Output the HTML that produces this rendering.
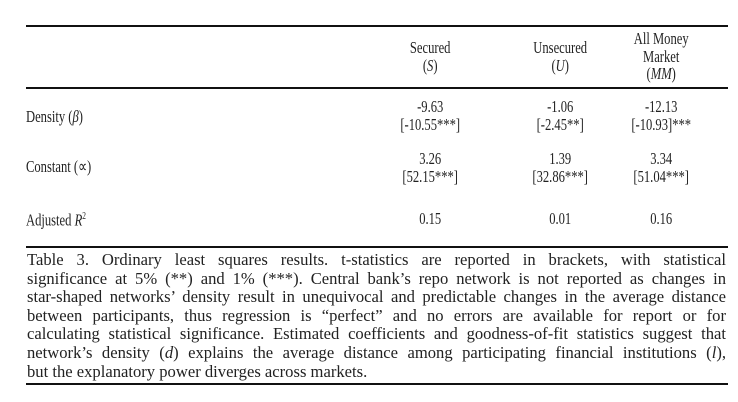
<!DOCTYPE html>
<html><head><meta charset="utf-8"><style>
body{margin:0;width:738px;height:402px;background:#fff;position:relative;overflow:hidden;font-family:"Liberation Serif",serif;color:#222;font-size:17px}
.r{position:absolute;background:#111}
.t{position:absolute;white-space:nowrap;line-height:18px;transform:scaleX(0.74);transform-origin:left top}
.c{text-align:center;width:160px;margin-left:-59px}
.cap{position:absolute;left:27px;width:699px;top:251px;font-size:16.6px}
.cap div{line-height:18.6px;height:18.6px;text-align:justify;text-align-last:justify;white-space:nowrap}
.cap div.last{text-align-last:left}
</style></head><body>
<div class="r" style="left:26px;top:25px;width:702px;height:2px"></div>
<div class="r" style="left:26px;top:87px;width:702px;height:2px"></div>
<div class="r" style="left:26px;top:246px;width:702px;height:2px"></div>
<div class="r" style="left:26px;top:383px;width:702px;height:2px"></div>

<div class="t c" style="left:430px;top:39px">Secured<br>(<i>S</i>)</div>
<div class="t c" style="left:560px;top:39px">Unsecured<br>(<i>U</i>)</div>
<div class="t c" style="left:661px;top:30px;line-height:17.5px">All Money<br>Market<br>(<i>MM</i>)</div>

<div class="t" style="left:26px;top:108px">Density (<i>β</i>)</div>
<div class="t c" style="left:430px;top:98px">-9.63<br>[-10.55***]</div>
<div class="t c" style="left:560px;top:98px">-1.06<br>[-2.45**]</div>
<div class="t c" style="left:661px;top:98px">-12.13<br>[-10.93]***</div>

<div class="t" style="left:26px;top:158px">Constant (∝)</div>
<div class="t c" style="left:430px;top:150px">3.26<br>[52.15***]</div>
<div class="t c" style="left:560px;top:150px">1.39<br>[32.86***]</div>
<div class="t c" style="left:661px;top:150px">3.34<br>[51.04***]</div>

<div class="t" style="left:26px;top:208px">Adjusted <i>R</i><sup style="font-size:10px">2</sup></div>
<div class="t c" style="left:430px;top:210px">0.15</div>
<div class="t c" style="left:560px;top:210px">0.01</div>
<div class="t c" style="left:661px;top:210px">0.16</div>

<div class="cap">
<div>Table 3. Ordinary least squares results. t-statistics are reported in brackets, with statistical</div>
<div>significance at 5% (**) and 1% (***). Central bank’s repo network is not reported as changes in</div>
<div>star-shaped networks’ density result in unequivocal and predictable changes in the average distance</div>
<div>between participants, thus regression is “perfect” and no errors are available for report or for</div>
<div>calculating statistical significance. Estimated coefficients and goodness-of-fit statistics suggest that</div>
<div>network’s density (<i>d</i>) explains the average distance among participating financial institutions (<i>l</i>),</div>
<div class="last">but the explanatory power diverges across markets.</div>
</div>
</body></html>
